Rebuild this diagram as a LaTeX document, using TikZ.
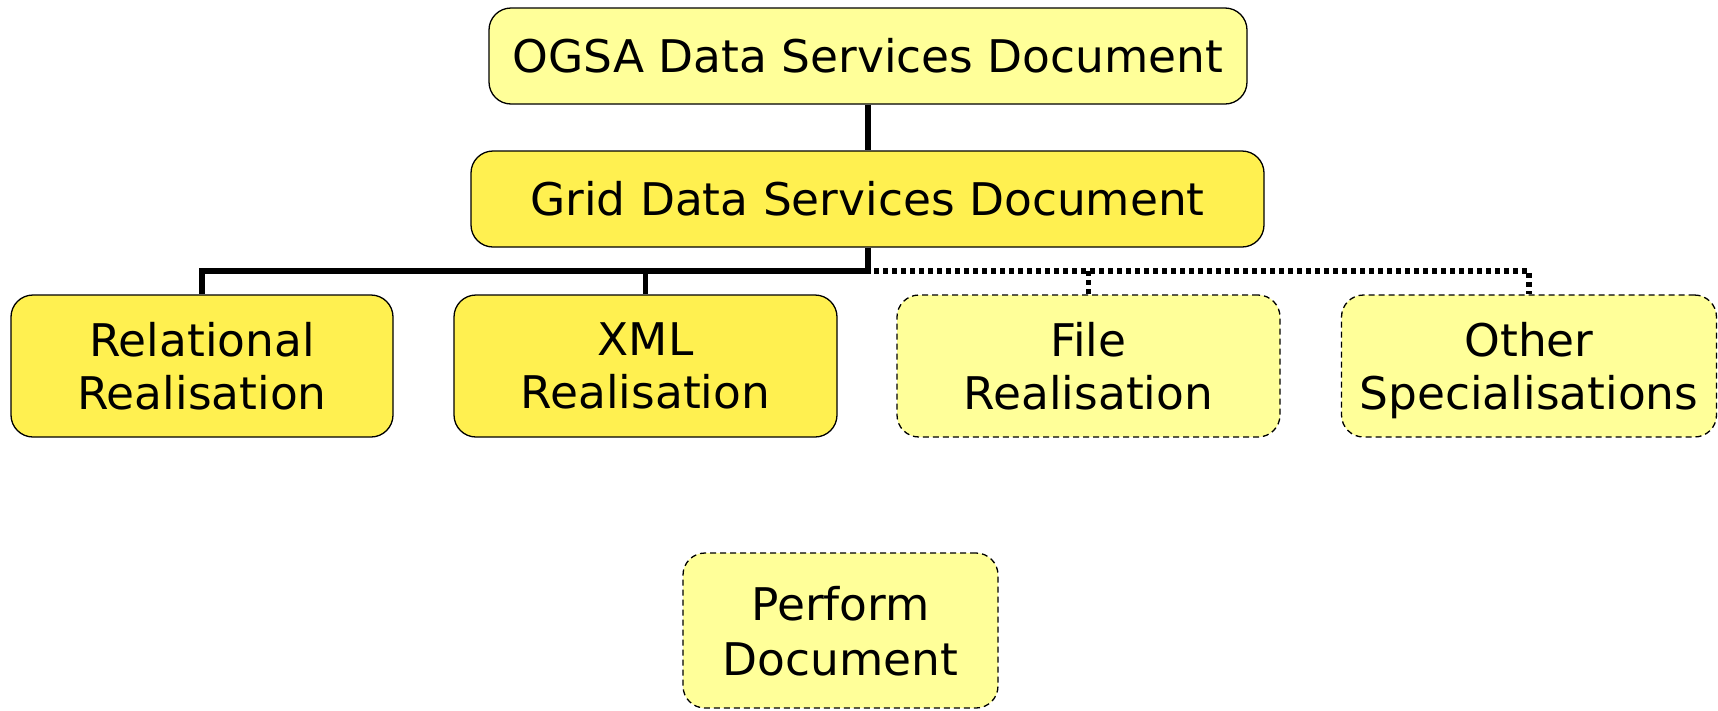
\documentclass[tikz,border=0pt]{standalone}
\usepackage{fontspec}
\setmainfont[FakeStretch=1.01]{DejaVu Sans}
\definecolor{paleyellow}{HTML}{FFFF99}
\definecolor{deepyellow}{HTML}{FFF050}
\begin{document}
\begin{tikzpicture}[x=1pt,y=-1pt,
  box/.style={draw=black, line width=1.3pt, rounded corners=22pt, inner sep=0pt,
    align=center, font=\fontsize{45}{53}\selectfont},
  mainbox/.style={box, fill=deepyellow},
  planbox/.style={box, fill=paleyellow},
  futurebox/.style={box, fill=paleyellow, dash pattern=on 6pt off 4pt},
  twoline/.style={text depth=0pt},
  link/.style={line width=5.5pt},
  futurelink/.style={line width=5.5pt, dash pattern=on 5pt off 4pt}]
\useasboundingbox (0,0) rectangle (1718,710);
% document hierarchy
\node[planbox, minimum width=758pt, minimum height=96pt] (ogsa) at (868,56) {OGSA Data Services Document};
\node[mainbox, minimum width=793pt, minimum height=96pt] (gds) at (867.5,199) {Grid Data Services Document};
\node[mainbox, twoline, minimum width=382pt, minimum height=142pt] (rel) at (202,366) {Relational\\Realisation};
\node[mainbox, twoline, minimum width=383pt, minimum height=142pt] (xml) at (645.5,366) {XML\\Realisation};
\node[futurebox, twoline, minimum width=383pt, minimum height=142pt] (file) at (1088.5,366) {File\\Realisation};
\node[futurebox, twoline, minimum width=375pt, minimum height=142pt] (other) at (1529,366) {Other\\Specialisations};
\node[futurebox, twoline, minimum width=315pt, minimum height=155pt, font=\fontsize{45}{55}\selectfont] (perform) at (840.5,630.5) {Perform\\Document};
% connectors
\coordinate (hub) at (868,271);
\draw[link] (ogsa.south) -- (ogsa.south |- gds.north);
\draw[link] (hub |- gds.south) -- (hub);
\draw[link] ([xshift=2.75pt]hub) -| (rel.north);
\draw[link] (xml.north |- hub) -- (xml.north);
\draw[futurelink] ([xshift=-2.75pt]hub) -| (other.north);
\draw[futurelink] (file.north |- hub) -- (file.north);
\end{tikzpicture}
\end{document}
